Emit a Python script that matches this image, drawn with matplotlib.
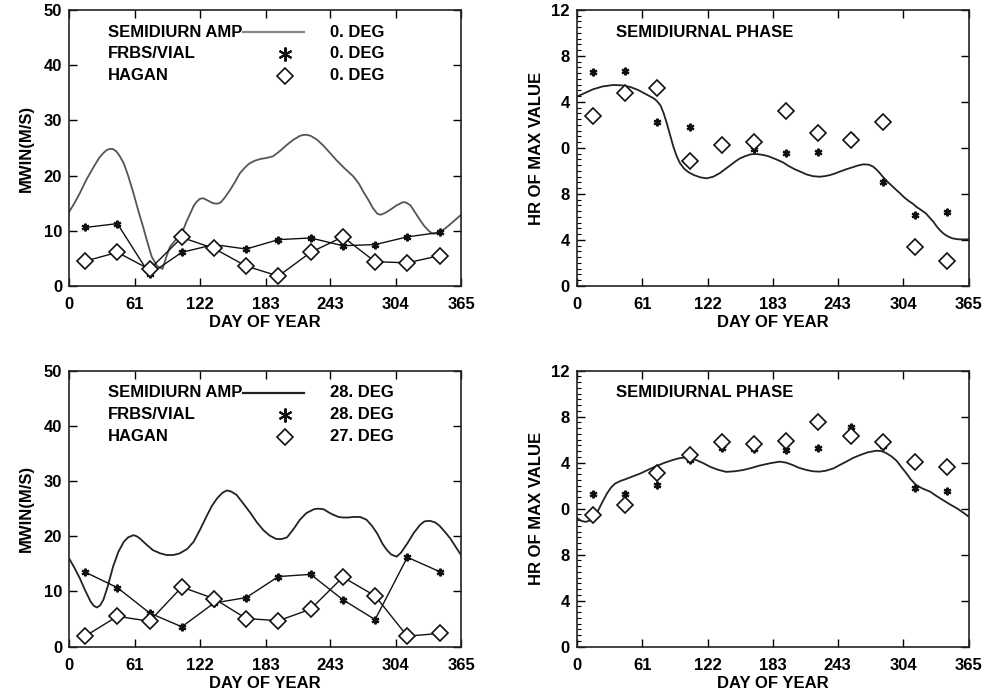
import matplotlib
matplotlib.use("Agg")
import matplotlib.pyplot as plt
from matplotlib.ticker import MultipleLocator

plt.rcParams['font.family'] = ['Liberation Sans', 'DejaVu Sans']
plt.rcParams['font.weight'] = 'bold'

# ---------------- data ----------------
xticks = [0, 61, 122, 183, 243, 304, 365]
amp_yticks = [0, 10, 20, 30, 40, 50]
phase_yticks = [0, 4, 8, 12, 16, 20, 24]
phase_ylabels = ['0', '4', '8', '0', '4', '8', '12']

obs_days = [15, 45, 75, 105, 135, 165, 195, 225, 255, 285, 315, 345]

# Top-left: amplitude, 0 deg
amp0_model_day = [0, 5, 10, 16, 23, 28, 32, 35, 38, 41, 44, 47, 51, 55, 60, 65, 69, 73, 77, 82, 87,
                  91, 94, 99, 105, 109, 113, 116, 119, 122, 125, 130, 134, 138, 141, 145, 150, 155,
                  159, 164, 168, 173, 178, 184, 190, 196, 203, 209, 215, 218, 221, 225, 231, 237,
                  243, 249, 255, 260, 265, 270, 274, 279, 283, 287, 290, 294, 299, 305, 311, 314,
                  318, 322, 327, 331, 336, 339, 342, 346, 352, 358, 365]
amp0_model_val = [13.4, 15.0, 16.8, 19.2, 21.6, 23.2, 24.1, 24.6, 24.85, 24.8, 24.4, 23.6, 22.2,
                  20.0, 16.8, 13.3, 10.7, 7.9, 5.3, 3.6, 3.1, 5.5, 7.1, 8.3, 9.5, 11.5, 13.2, 14.5,
                  15.3, 15.8, 15.9, 15.4, 15.0, 14.9, 15.1, 16.0, 17.4, 19.0, 20.4, 21.5, 22.2,
                  22.7, 23.0, 23.2, 23.5, 24.4, 25.6, 26.5, 27.2, 27.35, 27.4, 27.2, 26.5, 25.4,
                  24.1, 22.8, 21.6, 20.7, 19.8, 18.5, 17.1, 15.5, 14.1, 13.1, 12.9, 13.2, 13.8,
                  14.6, 15.2, 15.1, 14.6, 13.4, 11.9, 10.8, 9.8, 9.5, 9.5, 9.8, 10.7, 11.7, 12.9]
amp0_frbs = [10.6, 11.3, 2.1, 6.1, 7.5, 6.7, 8.4, 8.7, 7.3, 7.5, 8.9, 9.7]
amp0_hagan = [4.5, 6.1, 3.0, 8.8, 6.8, 3.6, 1.8, 6.1, 8.9, 4.4, 4.2, 5.5]

# Top-right: phase, 0 deg (hours on a 0-24 axis scale)
ph0_model_day = [0, 8, 15, 24, 34, 42, 50, 57, 62, 68, 72, 75, 78, 81, 84, 87, 90, 93, 96, 100, 104,
                 109, 115, 121, 127, 133, 138, 143, 148, 152, 157, 162, 167, 172, 178, 186, 192,
                 197, 203, 208, 214, 220, 226, 231, 236, 241, 245, 251, 256, 262, 267, 272, 276,
                 280, 285, 289, 293, 297, 301, 305, 309, 313, 316, 320, 325, 329, 332, 335, 338,
                 341, 344, 347, 350, 355, 360, 365]
ph0_model_val = [16.46, 16.8, 17.1, 17.35, 17.48, 17.45, 17.3, 17.05, 16.8, 16.5, 16.3, 16.05, 15.7,
                 15.0, 14.1, 13.1, 12.1, 11.3, 10.7, 10.2, 9.9, 9.65, 9.45, 9.36, 9.5, 9.8, 10.15,
                 10.5, 10.85, 11.1, 11.3, 11.45, 11.48, 11.42, 11.3, 11.0, 10.75, 10.45, 10.15,
                 9.95, 9.7, 9.55, 9.5, 9.55, 9.65, 9.8, 9.95, 10.15, 10.3, 10.48, 10.58, 10.55,
                 10.38, 10.05, 9.5, 9.1, 8.75, 8.4, 8.06, 7.7, 7.4, 7.15, 6.9, 6.65, 6.32, 5.9,
                 5.6, 5.2, 4.87, 4.6, 4.4, 4.25, 4.14, 4.06, 4.05, 4.06]
ph0_frbs = [18.6, 18.7, 14.3, 13.8, 12.3, 11.9, 11.6, 11.65, 13.0, 9.0, 6.2, 6.4]
ph0_hagan = [14.8, 16.8, 17.2, 10.9, 12.3, 12.5, 15.2, 13.3, 12.7, 14.3, 3.4, 2.2]

# Bottom-left: amplitude, 28 deg
amp28_model_day = [0, 5, 10, 15, 20, 23, 26, 29, 32, 36, 41, 46, 51, 55, 60, 63, 66, 72, 78, 85, 91,
                   97, 103, 110, 116, 122, 128, 133, 138, 143, 147, 151, 156, 162, 169, 175, 181,
                   187, 193, 198, 203, 209, 215, 221, 228, 232, 237, 242, 246, 251, 255, 260, 265,
                   271, 277, 282, 287, 292, 296, 300, 305, 309, 315, 321, 327, 331, 336, 341, 345,
                   350, 355, 360, 365]
amp28_model_val = [16.0, 14.3, 12.4, 10.2, 8.2, 7.4, 7.1, 7.5, 8.5, 10.9, 14.5, 17.2, 19.0, 19.8,
                   20.2, 20.0, 19.6, 18.5, 17.5, 16.9, 16.6, 16.6, 16.9, 17.7, 19.0, 21.2, 23.6,
                   25.5, 26.9, 27.9, 28.3, 28.1, 27.5, 26.0, 24.2, 22.5, 21.1, 20.1, 19.5, 19.5,
                   19.8, 21.3, 23.0, 24.2, 24.9, 25.0, 24.9, 24.3, 23.9, 23.5, 23.4, 23.4, 23.5,
                   23.5, 23.0, 21.9, 20.5, 18.6, 17.5, 16.7, 16.3, 17.0, 18.7, 20.6, 22.1, 22.7,
                   22.8, 22.5, 21.9, 20.8, 19.6, 18.1, 16.6]
amp28_frbs = [13.5, 10.7, 6.1, 3.6, 7.9, 8.9, 12.7, 13.1, 8.5, 4.9, 16.2, 13.6]
amp28_hagan = [1.9, 5.5, 4.6, 10.8, 8.7, 5.1, 4.7, 6.8, 12.6, 9.2, 1.9, 2.4]

# Bottom-right: phase, 28 deg
ph28_model_day = [0, 4, 8, 12, 16, 20, 24, 28, 32, 36, 41, 45, 52, 59, 67, 74, 82, 90, 96, 102, 107,
                  112, 118, 124, 131, 139, 147, 155, 163, 170, 180, 189, 195, 201, 207, 214, 220,
                  226, 232, 239, 245, 251, 257, 264, 271, 279, 284, 288, 293, 298, 302, 307, 311,
                  316, 322, 329, 335, 341, 347, 354, 360, 365]
ph28_model_val = [11.2, 10.95, 10.85, 10.95, 11.3, 11.85, 12.6, 13.3, 13.85, 14.2, 14.42, 14.55,
                  14.8, 15.05, 15.4, 15.7, 16.0, 16.25, 16.4, 16.46, 16.35, 16.2, 15.95, 15.65,
                  15.4, 15.2, 15.25, 15.36, 15.55, 15.74, 15.95, 16.09, 16.0, 15.8, 15.55, 15.36,
                  15.25, 15.22, 15.3, 15.5, 15.8, 16.09, 16.4, 16.67, 16.9, 17.04, 17.0, 16.84,
                  16.55, 16.15, 15.65, 15.07, 14.55, 14.06, 13.75, 13.48, 13.1, 12.75, 12.4,
                  12.03, 11.65, 11.3]
ph28_frbs = [13.25, 13.25, 14.1, 16.2, 17.25, 17.2, 17.1, 17.3, 19.1, 17.45, 13.8, 13.5]
ph28_hagan = [11.45, 12.3, 15.1, 16.7, 17.8, 17.6, 17.9, 19.5, 18.35, 17.8, 16.1, 15.65]

legend_labels = ['SEMIDIURN AMP', 'FRBS/VIAL', 'HAGAN']
legend_top = ['0. DEG', '0. DEG', '0. DEG']
legend_bottom = ['28. DEG', '28. DEG', '27. DEG']

# ---------------- plotting ----------------
FS = 12
fig = plt.figure(figsize=(10.02, 6.94), dpi=100)

W, H = 0.3912, 0.3977
axTL = fig.add_axes([0.0689, 0.5879, W, H])
axTR = fig.add_axes([0.5756, 0.5879, W, H])
axBL = fig.add_axes([0.0689, 0.0682, W, H])
axBR = fig.add_axes([0.5756, 0.0682, W, H])

star_kw = dict(marker=(6, 2, 0), markersize=5.5, markeredgewidth=1.6, color='#111111')
diam_kw = dict(marker='D', markersize=8, markerfacecolor='white', markeredgecolor='#111111',
               markeredgewidth=1.2, linestyle='none')


def style(ax, phase=False):
    ax.set_xlim(0, 365)
    ax.set_xticks(xticks)
    ax.set_xticklabels([str(t) for t in xticks], fontsize=FS, fontweight='bold')
    ax.set_xlabel('DAY OF YEAR', fontsize=FS, fontweight='bold', labelpad=2)
    ax.tick_params(direction='in', top=True, right=True, length=6, width=1, pad=5)
    ax.tick_params(axis='x', pad=8)
    for s in ax.spines.values():
        s.set_linewidth(1.2)
        s.set_color('#222222')
    if phase:
        ax.set_ylim(0, 24)
        ax.set_yticks(phase_yticks)
        ax.set_yticklabels(phase_ylabels, fontsize=FS, fontweight='bold')
        ax.yaxis.set_minor_locator(MultipleLocator(0.5))
        ax.tick_params(axis='y', which='minor', direction='in', left=True, right=False,
                       length=3, width=0.8)
        ax.set_ylabel('HR OF MAX VALUE', fontsize=FS, fontweight='bold', labelpad=5)
        ax.text(0.1, 0.92, 'SEMIDIURNAL PHASE', transform=ax.transAxes, fontsize=FS,
                fontweight='bold', va='center', ha='left')
    else:
        ax.set_ylim(0, 50)
        ax.set_yticks(amp_yticks)
        ax.set_yticklabels([str(t) for t in amp_yticks], fontsize=FS, fontweight='bold')
        ax.set_ylabel('MWIN(M/S)', fontsize=FS, fontweight='bold', labelpad=7)


def legend(ax, deg, linecolor):
    ys = [0.920, 0.841, 0.761]
    for lab, d, y in zip(legend_labels, deg, ys):
        ax.text(0.0995, y, lab, transform=ax.transAxes, fontsize=FS, fontweight='bold',
                va='center', ha='left')
        ax.text(0.665, y, d, transform=ax.transAxes, fontsize=FS, fontweight='bold',
                va='center', ha='left')
    ax.plot([0.444, 0.60], [ys[0], ys[0]], transform=ax.transAxes, color=linecolor, lw=1.6)
    ax.plot([0.551], [ys[1]], transform=ax.transAxes, marker=(6, 2, 0), markersize=10,
            markeredgewidth=1.5, color='#111111', linestyle='none')
    ax.plot([0.551], [ys[2]], transform=ax.transAxes, **diam_kw)


# Top-left
style(axTL)
axTL.plot(amp0_model_day, amp0_model_val, color='#555555', lw=1.3)
axTL.plot(obs_days, amp0_frbs, linestyle='-', lw=1.0, **star_kw)
axTL.plot(obs_days, amp0_hagan, color='#111111', lw=1.0)
axTL.plot(obs_days, amp0_hagan, **diam_kw)
legend(axTL, legend_top, '#888888')

# Top-right
style(axTR, phase=True)
axTR.plot(ph0_model_day, ph0_model_val, color='#222222', lw=1.3)
axTR.plot(obs_days, ph0_frbs, linestyle='none', **star_kw)
axTR.plot(obs_days, ph0_hagan, **diam_kw)

# Bottom-left
style(axBL)
axBL.plot(amp28_model_day, amp28_model_val, color='#222222', lw=1.3)
axBL.plot(obs_days, amp28_frbs, linestyle='-', lw=1.0, **star_kw)
axBL.plot(obs_days, amp28_hagan, color='#111111', lw=1.0)
axBL.plot(obs_days, amp28_hagan, **diam_kw)
legend(axBL, legend_bottom, '#222222')

# Bottom-right
style(axBR, phase=True)
axBR.plot(ph28_model_day, ph28_model_val, color='#222222', lw=1.3)
axBR.plot(obs_days, ph28_frbs, linestyle='none', **star_kw)
axBR.plot(obs_days, ph28_hagan, **diam_kw)

fig.savefig('out.png', dpi=100)
